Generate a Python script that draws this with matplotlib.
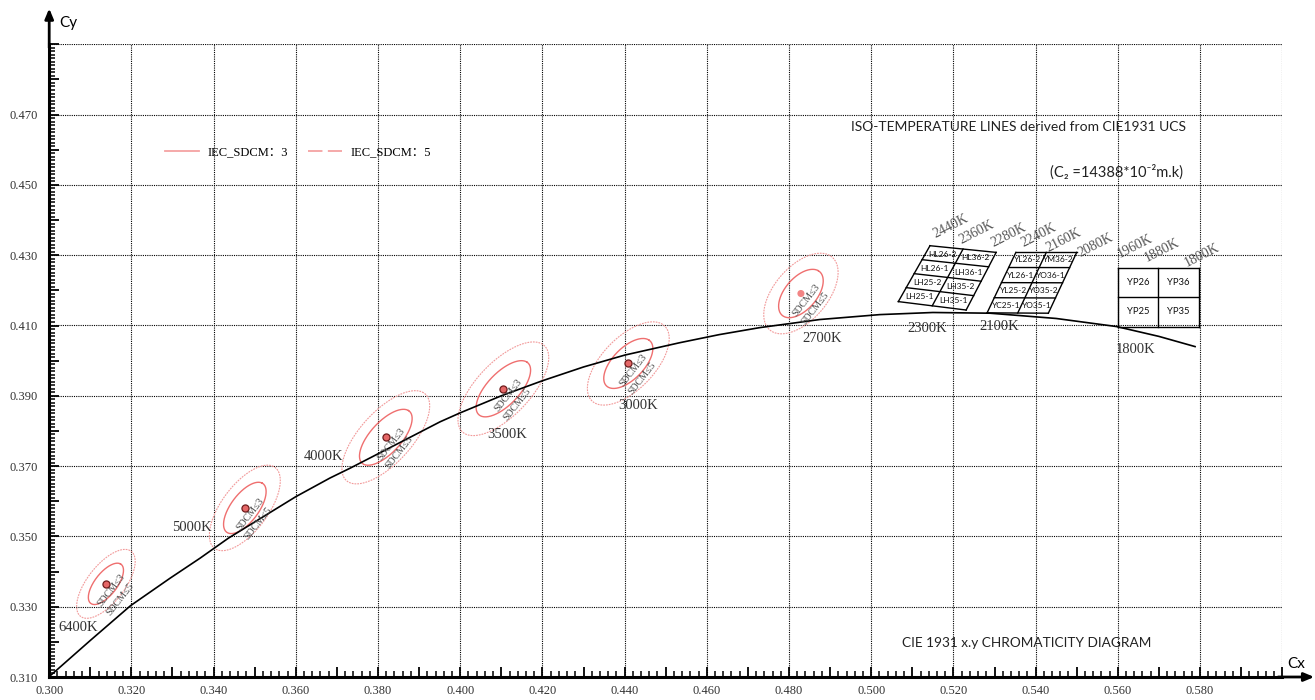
import numpy as np
import matplotlib
matplotlib.use('Agg')
import matplotlib.pyplot as plt
from matplotlib.lines import Line2D
from matplotlib.ticker import MultipleLocator, FuncFormatter
from matplotlib.font_manager import FontProperties

# ---------------- data ----------------
locus_x = [0.3000, 0.3100, 0.3198, 0.3294, 0.3367, 0.3436, 0.3600, 0.3683, 0.3732, 0.3850, 0.3951,
           0.3999, 0.4100, 0.4198, 0.4300, 0.4401, 0.4534, 0.4630, 0.4729, 0.4875, 0.5021, 0.5150,
           0.5289, 0.5450, 0.5597, 0.5700, 0.5788]
locus_y = [0.3101, 0.3204, 0.3303, 0.3381, 0.3438, 0.3495, 0.3613, 0.3666, 0.3694, 0.3765, 0.3826,
           0.3851, 0.3900, 0.3942, 0.3982, 0.4016, 0.4051, 0.4074, 0.4094, 0.4117, 0.4131, 0.4137,
           0.4135, 0.4120, 0.4097, 0.4069, 0.4040]

cct_names = ['6400K', '5000K', '4000K', '3500K', '3000K', '2700K']
center_x = [0.3138, 0.3476, 0.3819, 0.4105, 0.4409, 0.4829]
center_y = [0.3365, 0.3581, 0.3782, 0.3920, 0.3992, 0.4191]
ell_a = [0.00223, 0.00274, 0.00313, 0.00317, 0.00278, 0.00258]
ell_b = [0.00095, 0.00118, 0.00134, 0.00139, 0.00136, 0.00137]
ell_theta = [58.23, 59.37, 54.00, 52.93, 53.13, 57.27]
sdcm_steps = [3, 5]

# quadrangle corners: TL, TR, BL, BR
quad1 = [(0.5143, 0.4327), (0.5304, 0.4308), (0.5066, 0.4168), (0.5231, 0.4144)]
quad1_labels = [['HL26-2', 'HL36-2'], ['HL26-1', 'LH36-1'], ['LH25-2', 'LH35-2'], ['LH25-1', 'LH35-1']]
quad2 = [(0.5352, 0.4308), (0.5500, 0.4308), (0.5282, 0.4136), (0.5431, 0.4135)]
quad2_labels = [['YL26-2', 'YM36-2'], ['YL26-1', 'YO36-1'], ['YL25-2', 'YO35-2'], ['YC25-1', 'YO35-1']]
quad3 = [(0.5600, 0.4263), (0.5797, 0.4263), (0.5600, 0.4097), (0.5797, 0.4097)]
quad3_labels = [['YP26', 'YP36'], ['YP25', 'YP35']]

# CCT labels on the locus
temp_labels = ['6400K', '5000K', '4000K', '3500K', '3000K', '2700K', '2300K', '2100K', '1800K']
temp_x = [0.30708, 0.33482, 0.36686, 0.41135, 0.44333, 0.48796, 0.51365, 0.53102, 0.56436]
temp_y = [0.32414, 0.35259, 0.37267, 0.37885, 0.38738, 0.40636, 0.40920, 0.40966, 0.40303]

# rotated iso-temperature labels
iso_labels = ['2440K', '2360K', '2280K', '2240K', '2160K', '2080K', '1960K', '1880K', '1800K']
iso_x = [0.51934, 0.52567, 0.53336, 0.54066, 0.54674, 0.55462, 0.56419, 0.57083, 0.58056]
iso_y = [0.43811, 0.43651, 0.43555, 0.43575, 0.43432, 0.43290, 0.43242, 0.43148, 0.43006]

legend_labels = ['IEC_SDCM：3', 'IEC_SDCM：5']

# ---------------- figure ----------------
SERIF = ['Liberation Serif', 'DejaVu Serif', 'Noto Sans CJK SC']
SANS = ['Lato', 'DejaVu Sans']

fig = plt.figure(figsize=(13.15, 7.0), dpi=100)
ax = fig.add_axes([49.2 / 1315, 23 / 700, 1233 / 1315, 632.7 / 700])
ax.set_xlim(0.300, 0.600)
ax.set_ylim(0.310, 0.490)

for s in ['top', 'right']:
    ax.spines[s].set_visible(False)
for s in ['left', 'bottom']:
    ax.spines[s].set_linewidth(2.2)

# grid
for gx in np.arange(0.32, 0.6001, 0.02):
    ax.axvline(gx, color='k', lw=0.8, ls=(0, (1, 1)), zorder=1)
for gy in np.arange(0.33, 0.4901, 0.02):
    ax.axhline(gy, color='k', lw=0.8, ls=(0, (1, 1)), zorder=1)

# ticks
ax.xaxis.set_major_locator(MultipleLocator(0.01))
ax.xaxis.set_minor_locator(MultipleLocator(0.002))
ax.yaxis.set_major_locator(MultipleLocator(0.01))
ax.yaxis.set_minor_locator(MultipleLocator(0.001))

def fx(v, pos):
    k = int(round(v * 1000))
    return '%.3f' % v if (k % 20 == 0 and k < 590) else ''

def fy(v, pos):
    k = int(round(v * 1000))
    return '%.3f' % v if (k % 20 == 10 and k < 480) else ''

ax.xaxis.set_major_formatter(FuncFormatter(fx))
ax.yaxis.set_major_formatter(FuncFormatter(fy))
ax.tick_params(axis='both', which='major', direction='in', length=7.5, width=1.3, color='k')
ax.tick_params(axis='both', which='minor', direction='in', length=4, width=1.1, color='k')
ax.tick_params(axis='x', which='major', pad=6)
ax.tick_params(axis='y', which='major', pad=8)
for lab in ax.get_xticklabels() + ax.get_yticklabels():
    lab.set_fontfamily(SERIF)
    lab.set_fontsize(9)
    lab.set_color('#333333')

# axis arrows
ax.annotate('', xy=(0.6078, 0.310), xytext=(0.5990, 0.310),
            arrowprops=dict(arrowstyle='-|>,head_length=0.6,head_width=0.25', color='k', lw=2,
                            shrinkA=0, shrinkB=0), annotation_clip=False)
ax.annotate('', xy=(0.300, 0.5002), xytext=(0.300, 0.4890),
            arrowprops=dict(arrowstyle='-|>,head_length=0.6,head_width=0.25', color='k', lw=2,
                            shrinkA=0, shrinkB=0), annotation_clip=False)
ax.text(0.30457, 0.4961, 'Cy', fontfamily=SANS, fontsize=11, ha='center', va='center')
ax.text(0.60336, 0.3137, 'Cx', fontfamily=SANS, fontsize=11, ha='center', va='center')

# Planckian locus
ax.plot(locus_x, locus_y, color='k', lw=1.2, zorder=3, clip_on=False, solid_joinstyle='round')

# SDCM ellipses
t = np.linspace(0, 2 * np.pi, 300)
inner_col = '#ef6f6f'
outer_col = '#f29a9a'
for i in range(len(center_x)):
    th = np.deg2rad(ell_theta[i])
    for k, step in enumerate(sdcm_steps):
        a = step * ell_a[i]
        b = step * ell_b[i]
        ex = center_x[i] + a * np.cos(t) * np.cos(th) - b * np.sin(t) * np.sin(th)
        ey = center_y[i] + a * np.cos(t) * np.sin(th) + b * np.sin(t) * np.cos(th)
        if k == 0:
            ax.plot(ex, ey, color=inner_col, lw=1.0, zorder=2)
        else:
            ax.plot(ex, ey, color=outer_col, lw=0.8, ls=(0, (1.6, 0.9)), zorder=2)
    ax.annotate('SDCM≤3', xy=(center_x[i], center_y[i]), xytext=(3.8, -4.8),
                textcoords='offset points', rotation=52, ha='center', va='center',
                rotation_mode='anchor', fontsize=7.2, color='#4a4a4a', fontfamily=SERIF, zorder=4)
    ax.annotate('SDCM≤5', xy=(center_x[i], center_y[i]), xytext=(10.0, -11.0),
                textcoords='offset points', rotation=52, ha='center', va='center',
                rotation_mode='anchor', fontsize=7.2, color='#4a4a4a', fontfamily=SERIF, zorder=4)

ax.scatter(center_x[:-1], center_y[:-1], s=26, c='#e56767', edgecolors='#6e1c1c', linewidths=0.9, zorder=6)
ax.scatter(center_x[-1:], center_y[-1:], s=26, c='#f28585', edgecolors='none', zorder=6)

# temperature labels
for lab, x, y in zip(temp_labels, temp_x, temp_y):
    ax.text(x, y, lab, fontfamily=SERIF, fontsize=10.5, color='#333333', ha='center', va='center')
for lab, x, y in zip(iso_labels, iso_x, iso_y):
    ax.text(x, y, lab, fontfamily=SERIF, fontsize=10, color='#555555', ha='center', va='center',
            rotation=27, rotation_mode='anchor')

# quadrangles
def bil(c, u, v):
    tl, tr, bl, br = [np.array(p) for p in c]
    top = (1 - u) * tl + u * tr
    bot = (1 - u) * bl + u * br
    return (1 - v) * top + v * bot

def draw_quad(c, labels, fs):
    nrow = len(labels)
    ncol = len(labels[0])
    for r in range(nrow + 1):
        v = r / nrow
        p0, p1 = bil(c, 0, v), bil(c, 1, v)
        ax.plot([p0[0], p1[0]], [p0[1], p1[1]], color='k', lw=1.0, zorder=3)
    for cc in range(ncol + 1):
        u = cc / ncol
        p0, p1 = bil(c, u, 0), bil(c, u, 1)
        ax.plot([p0[0], p1[0]], [p0[1], p1[1]], color='k', lw=1.0, zorder=3)
    for r in range(nrow):
        for cc in range(ncol):
            p = bil(c, (cc + 0.5) / ncol, (r + 0.5) / nrow)
            ax.text(p[0], p[1], labels[r][cc], fontfamily=SANS, fontsize=fs,
                    ha='center', va='center', color='#111111', zorder=4)

draw_quad(quad1, quad1_labels, 6.0)
draw_quad(quad2, quad2_labels, 6.0)
draw_quad(quad3, quad3_labels, 6.8)

# annotations
ax.text(0.53572, 0.46656, 'ISO-TEMPERATURE LINES derived from CIE1931 UCS', fontfamily=SANS,
        fontsize=10, ha='center', va='center', color='#222222')
ax.text(0.55973, 0.45376, '(C₂ =14388*10⁻²m.k)', fontfamily=SANS,
        fontsize=10.5, ha='center', va='center', color='#222222')
ax.text(0.53786, 0.31959, 'CIE 1931 x.y CHROMATICITY DIAGRAM', fontfamily=SANS,
        fontsize=9.8, ha='center', va='center', color='#222222')

# legend
leg_col = '#f4a3a3'
handles = [Line2D([], [], color=leg_col, lw=1.3),
           Line2D([], [], color=leg_col, lw=1.3, ls=(0, (8, 3)))]
ax.legend(handles, legend_labels, ncol=2, frameon=False, loc='center left',
          bbox_to_anchor=(0.094, 0.829), borderpad=0, borderaxespad=0,
          handlelength=2.7, handletextpad=0.7, columnspacing=1.6,
          prop=FontProperties(family=SERIF, size=9))

fig.savefig('out.png', dpi=100)
